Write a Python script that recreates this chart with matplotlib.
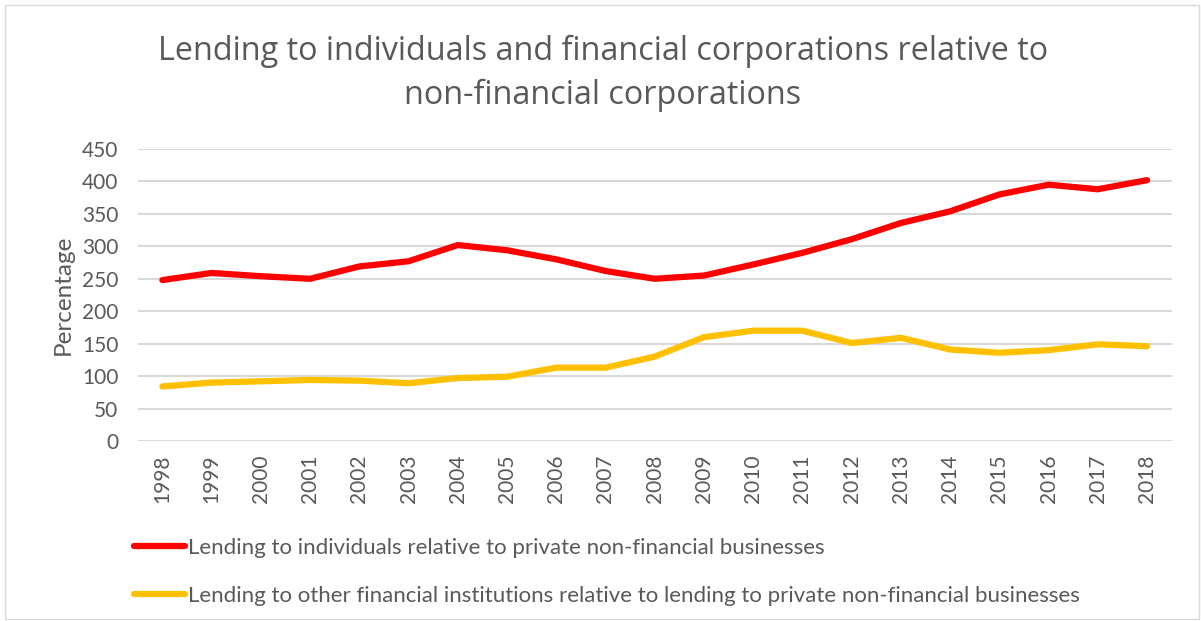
import numpy as np
import matplotlib
matplotlib.use("Agg")
from matplotlib import pyplot as plt
from matplotlib.patches import Rectangle

years = [str(y) for y in range(1998, 2019)]
individuals = [248, 259, 254, 250, 269, 277, 302, 294, 280, 262, 250, 255,
               272, 290, 311, 336, 354, 380, 395, 388, 402]
financial = [84, 90, 92, 94, 93, 89, 97, 99, 113, 113, 130, 160,
             170, 170, 151, 159, 141, 136, 140, 149, 146]

label_ind = "Lending to individuals relative to private non-financial businesses"
label_fin = "Lending to other financial institutions relative to lending to private non-financial businesses"
title = "Lending to individuals and financial corporations relative to\nnon-financial corporations"

grey = "#595959"
plt.rcParams['font.family'] = ['Lato', 'DejaVu Sans']

fig = plt.figure(figsize=(12.01, 6.21), dpi=100)
fig.patches.append(Rectangle((5 / 1201, 2 / 621), 1194 / 1201, 614 / 621,
                             transform=fig.transFigure, fill=False,
                             edgecolor="#d9d9d9", linewidth=1))

ax = fig.add_axes([0.1147, 0.2899, 0.8609, 0.4701])
x = np.arange(len(years))
l1, = ax.plot(x, individuals, color="#ff0000", linewidth=4.5, solid_capstyle="round")
l2, = ax.plot(x, financial, color="#ffc000", linewidth=4.5, solid_capstyle="round")

ax.set_xlim(-0.5, len(years) - 0.5)
ax.set_ylim(0, 450)
ax.set_yticks(range(0, 451, 50))
ax.set_xticks(x)
ax.set_xticklabels(years, rotation=90)
ax.grid(axis="y", color="#d9d9d9", linewidth=1.5)
ax.set_axisbelow(True)
for s in ax.spines.values():
    s.set_visible(False)
ax.tick_params(length=0, colors=grey, labelsize=15)
ax.tick_params(axis="y", pad=14)
ax.tick_params(axis="x", pad=10)
ax.set_ylabel("Percentage", color=grey, fontsize=17.5, labelpad=6)

fig.text(0.502, 0.882, title, ha="center", va="center", fontsize=23.3,
         color=grey, family=["Open Sans", "DejaVu Sans"], linespacing=1.45)

fig.legend([l1, l2], [label_ind, label_fin], loc="upper left",
           bbox_to_anchor=(0.104, 0.148), bbox_transform=fig.transFigure,
           frameon=False, fontsize=16, labelcolor=grey, handlelength=2.3,
           handletextpad=0.15, labelspacing=1.25, borderaxespad=0)

fig.savefig("out.png", dpi=100)
